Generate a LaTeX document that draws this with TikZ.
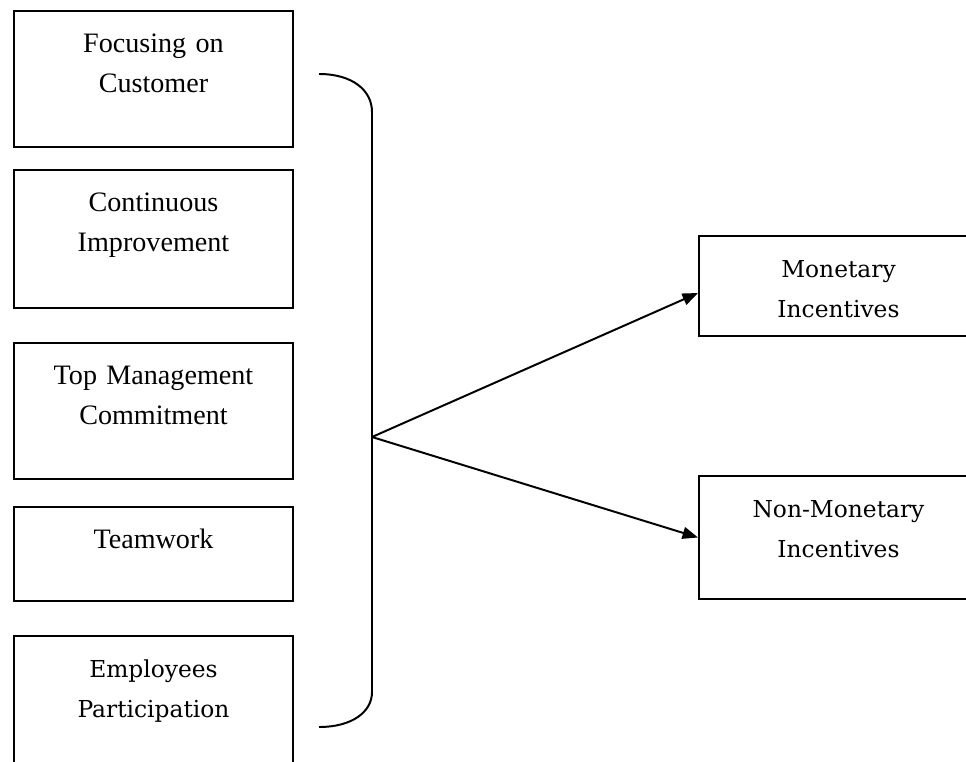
\documentclass[tikz,border=0pt]{standalone}
\usepackage{fontspec}
\setmainfont{Liberation Serif}
\newfontfamily\cambriafont{DejaVu Serif}
\usetikzlibrary{arrows.meta}
\newdimen\pxu \pxu=0.025cm
\tikzset{
  box/.style={draw, line width=1.4pt, anchor=north west, text width=279\pxu,
    align=center, inner xsep=0pt, inner ysep=0pt, text height=42\pxu,
    font=\fontsize{20}{28.45}\selectfont},
  cbox/.style={box, font=\cambriafont\fontsize{16.6}{28.45}\selectfont},
  arr/.style={-{Triangle[length=11pt,width=8.5pt]}, line width=1.4pt}
}

\begin{document}
\begin{tikzpicture}[x=0.025cm, y=-0.025cm]
  \useasboundingbox (0,0) rectangle (966,762);
  \node[box, text depth=94\pxu] (focus) at (13,10) {Focusing on\\Customer};
  \node[box, text depth=96\pxu] (improve) at (13,169) {Continuous\\Improvement};
  \node[box, text depth=94\pxu] (topmgmt) at (13,342) {Top Management\\Commitment};
  \node[box, text depth=52\pxu] (team) at (13,506) {Teamwork};
  \node[cbox, text depth=95\pxu] (particip) at (13,635) {Employees\\Participation};
  \node[cbox, text depth=58\pxu] (mon) at (698,235) {Monetary\\Incentives};
  \node[cbox, text depth=81\pxu] (nonmon) at (698,475) {Non-Monetary\\Incentives};
  \coordinate (apex) at (372,437);
  \draw[line width=1.4pt] (319,74) .. controls (352,74) and (372,90) .. (372,112)
    -- (apex) -- (372,692) .. controls (372,712) and (352,727) .. (319,727);
  \draw[arr] (apex) -- ([yshift=-5pt]mon.west);
  \draw[arr] (apex) -- (nonmon.west);
\end{tikzpicture}
\end{document}
